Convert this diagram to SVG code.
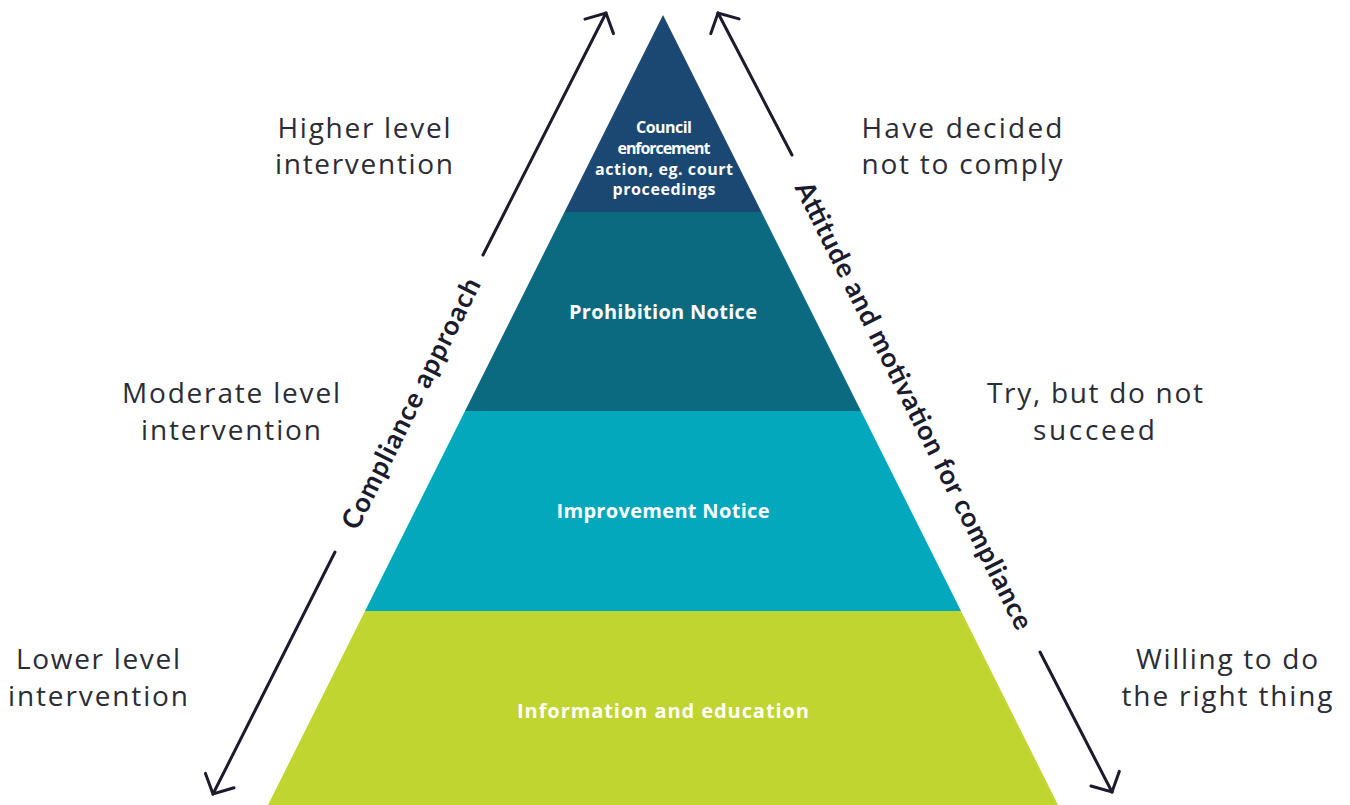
<svg xmlns="http://www.w3.org/2000/svg" width="1350" height="805" viewBox="0 0 1350 805">
  <style>
    .side { font-family: "Open Sans", Lato, sans-serif; font-size: 28px; fill: #2c2c36; text-anchor: middle; }
    .tier { font-family: "Open Sans", Lato, sans-serif; font-weight: bold; fill: #ffffff; text-anchor: middle; }
    .axis { font-family: Lato, "Open Sans", sans-serif; font-weight: bold; font-size: 27px; fill: #1c1b2e; text-anchor: middle; dominant-baseline: central; }
    .arrow { stroke: #1c1b2e; stroke-width: 3; fill: none; stroke-linecap: round; marker-end: url(#head); }
  </style>
  <defs>
    <marker id="head" markerUnits="userSpaceOnUse" viewBox="-18 -19 21 38" markerWidth="21" markerHeight="38" refX="0" refY="0" orient="auto">
      <path d="M-15,-16 L0,0 L-15,16" fill="none" stroke="#1c1b2e" stroke-width="3" stroke-linecap="round" stroke-linejoin="miter"/>
    </marker>
  </defs>
  <rect width="1350" height="805" fill="#ffffff"/>

  <g id="tier-top">
    <polygon points="663,15 761.5,212 564.5,212" fill="#1b4872"/>
    <text class="tier" font-size="16"><tspan x="664" y="133" textLength="56">Council</tspan><tspan x="664" y="154" textLength="93">enforcement</tspan><tspan x="664" y="175" textLength="138">action, eg. court</tspan><tspan x="664" y="195" textLength="103">proceedings</tspan></text>
  </g>
  <g id="tier-prohibition">
    <polygon points="564.5,212 761.5,212 861,411 465,411" fill="#0b6a80"/>
    <text class="tier" font-size="20" x="663" y="319" textLength="188">Prohibition Notice</text>
  </g>
  <g id="tier-improvement">
    <polygon points="465,411 861,411 961,611 365,611" fill="#03a8bd"/>
    <text class="tier" font-size="20" x="663" y="518" textLength="213">Improvement Notice</text>
  </g>
  <g id="tier-information">
    <polygon points="365,611 961,611 1058,805 268,805" fill="#c0d52f"/>
    <text class="tier" font-size="20" x="663" y="718" textLength="292">Information and education</text>
  </g>

  <g id="connectors">
    <line class="arrow" x1="483" y1="255" x2="606" y2="13"/>
    <line class="arrow" x1="335" y1="552" x2="213" y2="794"/>
    <line class="arrow" x1="792" y1="155" x2="718" y2="13"/>
    <line class="arrow" x1="1040" y1="652" x2="1112" y2="792"/>
  </g>

  <g id="axis-left">
    <text class="axis" transform="translate(410,403) rotate(-63.4)" x="0" y="0" textLength="277">Compliance approach</text>
  </g>
  <g id="axis-right">
    <text class="axis" transform="translate(915,405) rotate(63.4)" x="0" y="0" textLength="497">Attitude and motivation for compliance</text>
  </g>

  <g id="label-higher">
    <text class="side"><tspan x="364" y="138" textLength="173">Higher level</tspan><tspan x="364" y="174" textLength="178">intervention</tspan></text>
  </g>
  <g id="label-moderate">
    <text class="side"><tspan x="231" y="403" textLength="218">Moderate level</tspan><tspan x="231" y="440" textLength="180">intervention</tspan></text>
  </g>
  <g id="label-lower">
    <text class="side"><tspan x="98" y="669" textLength="164">Lower level</tspan><tspan x="98" y="706" textLength="180">intervention</tspan></text>
  </g>
  <g id="label-decided">
    <text class="side"><tspan x="962" y="138" textLength="201">Have decided</tspan><tspan x="962" y="174" textLength="201">not to comply</tspan></text>
  </g>
  <g id="label-try">
    <text class="side"><tspan x="1095" y="403" textLength="216">Try, but do not</tspan><tspan x="1094" y="440" textLength="122">succeed</tspan></text>
  </g>
  <g id="label-willing">
    <text class="side"><tspan x="1227" y="669" textLength="182">Willing to do</tspan><tspan x="1227" y="706" textLength="211">the right thing</tspan></text>
  </g>
</svg>
